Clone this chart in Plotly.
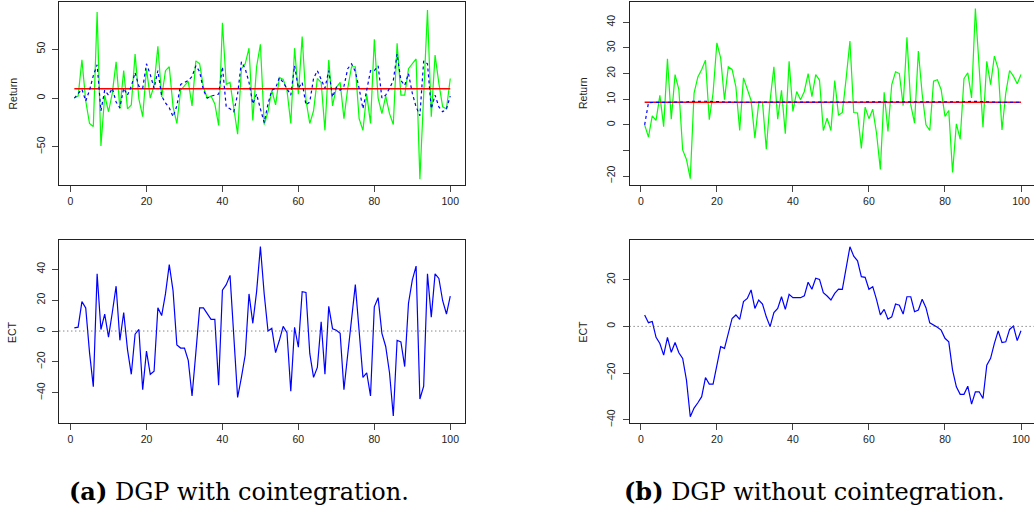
import plotly.graph_objects as go

# ---------------- data ----------------
t = list(range(1, 101))

# (a) DGP with cointegration
ret_a_actual = [0, 2, 39, -3, -26, -29, 88, -49, 3, -14,
                5, 37, -11, 28, -11, -7, 45, -1, -19, 30,
                0, 13, 53, 1, 28, 32, -9, -26, 8, 12,
                17, -8, 38, 35, 11, 0, 2, -6, -28, 77,
                14, 16, -11, -37, 30, 35, 51, -23, 32, 55,
                -27, -14, 8, -7, 21, 19, 8, -26, 51, 4,
                63, -2, -26, -13, 20, 16, -33, 39, -8, 11,
                16, -21, 10, 32, 32, -21, -33, 4, -26, 60,
                0, -16, 2, -16, -27, 56, 3, 3, 30, 35,
                40, -83, 3, 90, -19, 44, 15, -9, -11, 20]
ret_a_fitted = [0, 5, 9, -3, 8, 23, 34, -13, 8, 3,
                10, -4, -10, 10, 3, 12, 26, 12, 10, 35,
                24, 10, 28, 2, -5, -10, -19, -8, 14, 16,
                18, 22, 33, 27, 8, 0, 2, 3, 4, 32,
                -9, -11, -14, 4, 37, 30, 16, -6, 4, -11,
                -25, -6, 8, 10, 21, 16, 10, 3, 33, 10,
                16, -7, -4, 20, 28, 18, 10, 28, 1, 11,
                8, 12, 30, 35, 27, 10, -11, 8, 28, 28,
                33, 0, 3, 10, 18, 45, 18, 13, 25, 5,
                -9, -18, 38, 35, -11, 3, -9, -14, -11, 2]
ret_a_mean = 9.5
ect_a = [2, 2.5, 19, 15, -14, -36, 37, 1, 11, -4,
         12, 29, -6, 12, -12, -28, -2, 1, -38, -13,
         -28, -26, 15, 10, 24, 43, 26, -9, -11, -11,
         -19, -42, -14, 15, 15, 11, 7.5, 7.5, -35, 26.5,
         30, 36, -3, -43, -30, -15.5, 24, 5, 25.5, 54.6,
         24, 0, 1.7, -14, -6, 3, -1, -39, 2.4, -10.5,
         25.5, 25, -14.5, -30, -23.5, 6, -28, 16, 1.5, 0.5,
         -1.5, -38, -15, 8, 30, 0, -30, -27, -42, 15.7,
         21.6, -1.5, -10, -27, -55, -6, -7, -23, 18, 33,
         42, -44, -35.6, 37, 9, 37, 34, 19.6, 11, 22.6]

# (b) DGP without cointegration
ret_b_actual = [0, -4.8, 3.5, 1.7, 11.5, -0.7, 25.8, 2.2, 19.6, 13.7,
                -9.8, -13.5, -21, 12.4, 18.7, 21.6, 25.2, 2, 12.4, 32,
                26, 9.8, 22.6, 21.6, 14.8, -2.2, 18.3, 14, 9.5, -5.2,
                8.5, 8.8, -9.5, 9.5, 22.6, 2.2, 13.5, -3.5, 24.8, 5.2,
                13, 9.8, 13, 20, 11, 19.6, 17.4, -2.2, 2.6, -2.2,
                17.3, 3.7, 4.8, 18, 32.7, 4.8, 4.6, -9.2, 6.9, 2.4,
                6.1, -3.3, -17.4, 12.7, -2.6, 15.7, 20.7, 20, 7.5, 34.2,
                7.8, 0.7, 28.8, 12, 0, -2.2, 17, 17.6, 13.7, 3.3,
                5.6, -18.6, 0.4, -5.6, 18, 20.3, 10.5, 45.4, 22.9, -0.9,
                24.8, 15.7, 26.8, 21.8, -2, 12.4, 21.2, 19, 16, 19.6]
ret_b_fitted = [0, 8.6, 8.7, 8.8, 8.8, 8.8, 8.8, 8.8, 8.8, 8.8,
                8.8, 8.9, 9.1, 9.2, 9.2, 9.2, 9.2, 9.2, 9.2, 9.1,
                9.0, 8.9, 8.8, 8.8, 8.8, 8.8, 8.8, 8.8, 8.8, 8.8,
                8.8, 8.8, 8.8, 8.8, 8.8, 8.8, 8.8, 8.8, 8.8, 8.8,
                8.8, 8.8, 8.8, 8.8, 8.8, 8.8, 8.8, 8.8, 8.8, 8.8,
                8.8, 8.8, 8.8, 8.8, 8.8, 8.8, 8.8, 8.8, 8.8, 8.8,
                8.8, 8.8, 8.8, 8.8, 8.8, 8.8, 8.8, 8.8, 8.8, 8.8,
                8.8, 8.8, 8.8, 8.8, 8.8, 8.8, 8.8, 8.8, 8.8, 8.8,
                8.8, 8.8, 8.8, 8.9, 9.0, 9.1, 9.2, 9.2, 9.1, 9.0,
                8.9, 8.8, 8.8, 8.8, 8.8, 8.8, 8.8, 8.8, 8.8, 8.8]
ret_b_mean = 8.8
ect_b = [4.9, 1.6, 2.1, -4.7, -7.3, -12.3, -4.7, -11.1, -6.9, -11.3,
         -13.7, -23, -38.7, -35, -32.7, -30.1, -21.9, -24.7, -24.7, -16.6,
         -8.7, -9.4, -2.7, 3.4, 4.9, 3, 10.6, 12, 15.6, 7.7,
         11.3, 9.6, 4.1, -0.1, 5.9, 7.7, 12.7, 7.3, 13.7, 12.3,
         12.3, 12.3, 13.1, 18.9, 15.9, 20.6, 20.1, 14.4, 13, 11.3,
         14.1, 16, 15.9, 25, 34.1, 30.1, 28.1, 21.3, 21, 15.9,
         17, 11.5, 4.9, 7.3, 3.1, 4.1, 9.6, 9.1, 5.3, 12.7,
         12.7, 6.3, 7, 11.6, 8, 1.5, 0.6, -0.4, -1.6, -5.1,
         -6.6, -18.7, -25.9, -29.1, -29.1, -25.6, -33.3, -28, -28, -30.9,
         -16.6, -13.7, -7.3, -1.9, -6.9, -6.6, -1.3, 0.1, -6.1, -1.9]

x_ticks = [0, 20, 40, 60, 80, 100]
captions = ["<b>(a)</b> DGP with cointegration.", "<b>(b)</b> DGP without cointegration."]

# ---------------- figure ----------------
GREEN, BLUE, RED = "#00FF00", "#0000FF", "#FF0000"
W, H = 1034, 516

fig = go.Figure()

def add_return(actual, fitted, mean, xa, ya):
    fig.add_trace(go.Scatter(x=t, y=actual, mode="lines", line=dict(color=GREEN, width=1.2),
                             xaxis=xa, yaxis=ya, showlegend=False))
    fig.add_trace(go.Scatter(x=[t[0], t[-1]], y=[mean, mean], mode="lines",
                             line=dict(color=RED, width=1.6), xaxis=xa, yaxis=ya, showlegend=False))
    fig.add_trace(go.Scatter(x=t, y=fitted, mode="lines", line=dict(color=BLUE, width=1.2, dash="3px,3px"),
                             xaxis=xa, yaxis=ya, showlegend=False))

def add_ect(vals, xa, ya):
    fig.add_trace(go.Scatter(x=t, y=vals, mode="lines", line=dict(color=BLUE, width=1.2),
                             xaxis=xa, yaxis=ya, showlegend=False))

add_return(ret_a_actual, ret_a_fitted, ret_a_mean, "x", "y")
add_return(ret_b_actual, ret_b_fitted, ret_b_mean, "x2", "y2")
add_ect(ect_a, "x3", "y3")
add_ect(ect_b, "x4", "y4")

def px_x(p):
    return p / W

def px_y(p):
    return 1 - p / H

tickfont = dict(family="Liberation Sans, Arial, sans-serif", size=10.5, color="#222")
common_x = dict(showgrid=False, zeroline=False, showline=True, linecolor="#222", linewidth=1,
                ticks="outside", ticklen=6, tickcolor="#444", tickwidth=1, tickvals=x_ticks,
                tickfont=tickfont, automargin=False)
common_y = dict(showgrid=False, zeroline=False, showline=True, linecolor="#222", linewidth=1,
                ticks="outside", ticklen=6, tickcolor="#444", tickwidth=1, tickangle=-90,
                tickfont=tickfont, automargin=False, ticklabelstandoff=3)

left_dom = [px_x(59.3), px_x(465.3)]
right_dom = [px_x(629.6), 1.0]
top_dom = [px_y(185.3), px_y(2.3)]
bot_dom = [px_y(423.3), px_y(240)]

fig.update_layout(
    width=W, height=H, margin=dict(l=0, r=0, t=0, b=0, autoexpand=False),
    paper_bgcolor="white", plot_bgcolor="white",
    xaxis=dict(common_x, domain=left_dom, range=[-2.96, 103.96], anchor="y", mirror=True),
    yaxis=dict(common_y, domain=top_dom, range=[-89.2, 97.9], anchor="x", mirror=True,
               tickvals=[-50, 0, 50]),
    xaxis2=dict(common_x, domain=right_dom, range=[-2.96, 103.42], anchor="y2", mirror=True),
    yaxis2=dict(common_y, domain=top_dom, range=[-23.6, 47.8], anchor="x2",
                tickvals=[-20, -10, 0, 10, 20, 30, 40],
                ticktext=["\u221220", "", "0", "10", "20", "30", "40"]),
    xaxis3=dict(common_x, domain=left_dom, range=[-2.96, 103.96], anchor="y3", mirror=True),
    yaxis3=dict(common_y, domain=bot_dom, range=[-59.7, 58.9], anchor="x3", mirror=True,
                tickvals=[-40, -20, 0, 20, 40]),
    xaxis4=dict(common_x, domain=right_dom, range=[-2.96, 103.42], anchor="y4", mirror=True),
    yaxis4=dict(common_y, domain=bot_dom, range=[-41.5, 37.0], anchor="x4",
                tickvals=[-40, -20, 0, 20]),
)

# dotted zero lines in ECT panels
for xa, ya in (("x3", "y3"), ("x4", "y4")):
    fig.add_shape(type="line", xref=f"{xa} domain", yref=ya, x0=0, x1=1, y0=0, y1=0,
                  line=dict(color="#555", width=1, dash="1px,3px"))

# axis titles
title_font = dict(family="Liberation Sans, Arial, sans-serif", size=10.5, color="#222")
for xp, yp, txt in ((12, 93.5, "Return"), (12, 332, "ECT"), (582.5, 93.5, "Return"), (582.5, 332, "ECT")):
    fig.add_annotation(x=px_x(xp), y=px_y(yp), xref="paper", yref="paper", text=txt,
                       xanchor="center", yanchor="middle",
                       textangle=-90, showarrow=False, font=title_font)

# captions
cap_font = dict(family="DejaVu Serif, serif", size=24, color="black")
fig.add_annotation(x=px_x(239), y=px_y(491), xref="paper", yref="paper", text=captions[0],
                   xanchor="center", yanchor="middle", showarrow=False, font=cap_font)
fig.add_annotation(x=px_x(814), y=px_y(491), xref="paper", yref="paper", text=captions[1],
                   xanchor="center", yanchor="middle", showarrow=False, font=cap_font)

fig.write_html("out.html", config={"displayModeBar": False},
               post_script="document.body.style.margin='0';")
